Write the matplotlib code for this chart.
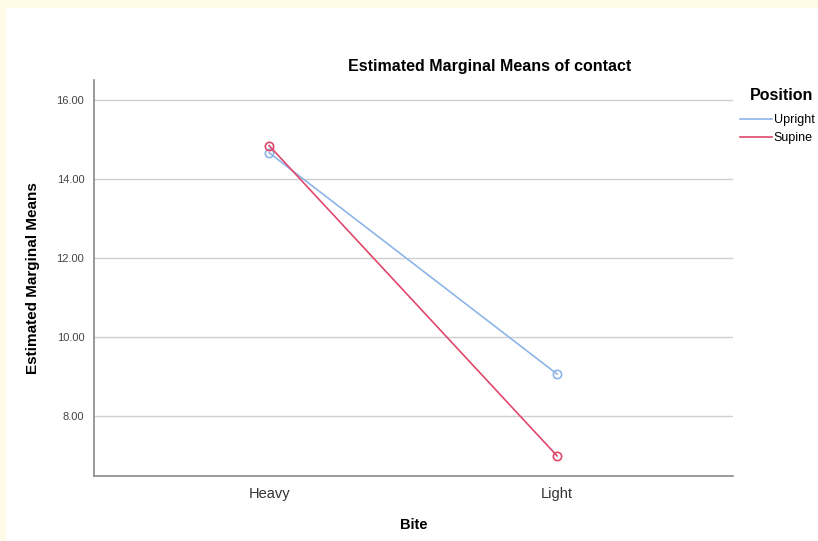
import matplotlib.pyplot as plt
import matplotlib.patches as mpatches
from matplotlib.lines import Line2D

plt.rcParams['font.family'] = ['Liberation Sans', 'DejaVu Sans']

bite = ['Heavy', 'Light']
upright = [14.66, 9.06]
supine = [14.84, 6.99]
yticks = [8, 10, 12, 14, 16]
colors = {'Upright': '#8db5e8', 'Supine': '#e0486c'}

W, H = 818, 541
fig = plt.figure(figsize=(W / 100, H / 100), dpi=100)
fig.patch.set_facecolor('white')

# cream frame at top and left edge
fig.add_artist(mpatches.Rectangle((0, 1 - 7 / H), 1, 7 / H, transform=fig.transFigure,
                                  color='#fffbe6', zorder=0))
fig.add_artist(mpatches.Rectangle((0, 0), 5 / W, 1, transform=fig.transFigure,
                                  color='#fffbe6', zorder=0))

ax = fig.add_axes([94 / W, 1 - 476 / H, (733 - 94) / W, (476 - 80) / H])

x = [0, 1]
ax.plot(x, upright, color=colors['Upright'], lw=1.2, marker='o', ms=6, mfc='none',
        mew=1.2, zorder=3)
ax.plot(x, supine, color=colors['Supine'], lw=1.2, marker='o', ms=6, mfc='none',
        mew=1.2, zorder=3)

ax.set_xlim(-0.608, 1.611)
ax.set_ylim(6.48, 16.5)
ax.set_xticks(x)
ax.set_xticklabels(bite, fontsize=10.5, color='#333333')
ax.set_yticks(yticks)
ax.set_yticklabels([f'{v:.2f}' for v in yticks], fontsize=8, color='#444444')
ax.tick_params(axis='both', length=0)
ax.tick_params(axis='x', pad=8)
ax.tick_params(axis='y', pad=7)
ax.grid(axis='y', color='#cfcfcf', lw=1)
ax.set_axisbelow(True)
for s in ['top', 'right']:
    ax.spines[s].set_visible(False)
for s in ['left', 'bottom']:
    ax.spines[s].set_color('#8a8a8a')
    ax.spines[s].set_linewidth(1.2)

ax.set_xlabel('Bite', fontsize=10.5, fontweight='bold', labelpad=12)
ax.set_ylabel('Estimated Marginal Means', fontsize=11, fontweight='bold', labelpad=12)

fig.text(490 / W, 1 - 67 / H, 'Estimated Marginal Means of contact', ha='center',
         va='center', fontsize=11.5, fontweight='bold')

fig.text(813 / W, 1 - 95 / H, 'Position', ha='right', va='center',
         fontsize=11.5, fontweight='bold')
handles = [Line2D([], [], color=colors[k], lw=1.2) for k in colors]
leg = fig.legend(handles, list(colors), loc='upper right',
                 bbox_to_anchor=(816 / W, 1 - 113 / H), frameon=False,
                 fontsize=9, handlelength=2.6, handletextpad=0.15,
                 borderaxespad=0, borderpad=0.1, labelspacing=0.5)

fig.savefig('out.png', dpi=100)
